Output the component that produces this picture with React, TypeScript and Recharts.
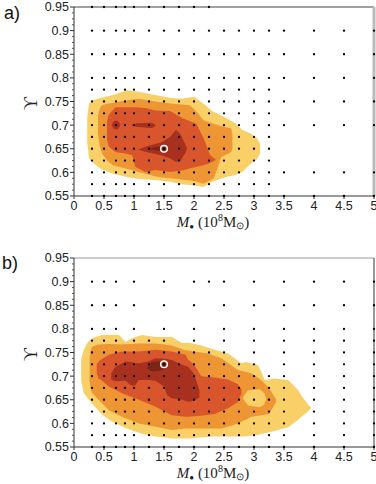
import { ComposedChart, Area, Scatter, XAxis, YAxis, ReferenceLine } from "recharts";

// axis ticks
const xTicks = [0, 0.5, 1, 1.5, 2, 2.5, 3, 3.5, 4, 4.5, 5];
const yTicks = [0.55, 0.6, 0.65, 0.7, 0.75, 0.8, 0.85, 0.9, 0.95];
const yAllTicks = [
  0.55, 0.5625, 0.575, 0.5875, 0.6, 0.6125, 0.625, 0.6375, 0.65, 0.6625, 0.675,
  0.6875, 0.7, 0.7125, 0.725, 0.7375, 0.75, 0.7625, 0.775, 0.7875, 0.8, 0.8125,
  0.825, 0.8375, 0.85, 0.8625, 0.875, 0.8875, 0.9, 0.9125, 0.925, 0.9375, 0.95,
];

// grid columns of the sampled models
const fineX = [0.3, 0.5, 0.7, 0.85, 1, 1.25, 1.5, 1.75, 2, 2.25, 2.5, 2.75, 3, 3.25];
const farX = [3.5, 4, 4.5, 5];

// panel a: grid rows
const rowsA = [
  { y: 0.95, xs: [0.3, 0.5, 0.7, 0.85, 1, 1.25, 1.5, 1.75, 2, 2.25] },
  { y: 0.9, xs: [...fineX, ...farX] },
  { y: 0.85, xs: [...fineX, ...farX] },
  { y: 0.8, xs: [...fineX, ...farX] },
  { y: 0.775, xs: fineX },
  { y: 0.75, xs: [...fineX, ...farX] },
  { y: 0.725, xs: fineX },
  { y: 0.7, xs: [...fineX, ...farX] },
  { y: 0.675, xs: fineX },
  { y: 0.65, xs: fineX },
  { y: 0.625, xs: fineX },
  { y: 0.6, xs: [...fineX, ...farX] },
  { y: 0.575, xs: fineX },
  { y: 0.55, xs: [...fineX, ...farX] },
];

// panel a: confidence regions [M, lower, upper]
const aYellow: [number, number, number][] = [
  [0.22, 0.665, 0.715], [0.25, 0.63, 0.745], [0.3, 0.622, 0.752], [0.45, 0.607, 0.758],
  [0.65, 0.597, 0.764], [0.88, 0.59, 0.774], [1.1, 0.586, 0.77], [1.35, 0.584, 0.764],
  [1.6, 0.58, 0.758], [1.8, 0.575, 0.756], [2.0, 0.572, 0.76], [2.16, 0.569, 0.745],
  [2.3, 0.58, 0.73], [2.55, 0.591, 0.714], [2.7, 0.595, 0.703], [2.8, 0.601, 0.69],
  [2.95, 0.619, 0.682], [3.05, 0.628, 0.672], [3.1, 0.64, 0.66],
];
const aOrange: [number, number, number][] = [
  [0.4, 0.68, 0.72], [0.43, 0.655, 0.735], [0.47, 0.64, 0.742], [0.55, 0.625, 0.745],
  [0.65, 0.615, 0.747], [0.86, 0.608, 0.752], [1.08, 0.601, 0.756], [1.4, 0.59, 0.749],
  [1.65, 0.587, 0.745], [1.93, 0.583, 0.742], [2.05, 0.58, 0.728], [2.16, 0.576, 0.71],
  [2.33, 0.587, 0.703], [2.4, 0.612, 0.7], [2.45, 0.632, 0.698], [2.62, 0.643, 0.693],
  [2.64, 0.65, 0.68],
];
const aRed: [number, number, number][] = [
  [0.55, 0.67, 0.71], [0.58, 0.655, 0.722], [0.69, 0.643, 0.738], [0.86, 0.64, 0.738],
  [0.97, 0.636, 0.738], [1.02, 0.612, 0.738], [1.19, 0.601, 0.736], [1.36, 0.605, 0.731],
  [1.6, 0.601, 0.73], [1.8, 0.604, 0.715], [2.04, 0.612, 0.703], [2.16, 0.615, 0.672],
  [2.27, 0.62, 0.636], [2.36, 0.626, 0.628],
];
const aDark1: [number, number, number][] = [
  [0.63, 0.7, 0.701], [0.66, 0.693, 0.708], [0.72, 0.69, 0.71], [0.77, 0.698, 0.703],
];
const aDark2: [number, number, number][] = [
  [0.97, 0.699, 0.701], [1.05, 0.696, 0.704], [1.3, 0.694, 0.705], [1.36, 0.698, 0.701],
];
const aDark3: [number, number, number][] = [
  [1.08, 0.648, 0.649], [1.2, 0.643, 0.655], [1.45, 0.636, 0.663], [1.6, 0.63, 0.675],
  [1.7, 0.622, 0.69], [1.78, 0.625, 0.68], [1.85, 0.64, 0.66], [1.88, 0.649, 0.652],
];
const aDarkest: [number, number, number][] = [
  [1.25, 0.649, 0.651], [1.4, 0.646, 0.654], [1.5, 0.646, 0.654], [1.56, 0.649, 0.651],
];
const bestA = { x: 1.5, y: 0.65 };

// panel b: grid rows
const rowsB = [
  { y: 0.9, xs: [0.3, 0.5, 0.7, 1, 1.5, 2, 2.25, 2.5, 3, 3.5, 4, 4.5, 5] },
  { y: 0.85, xs: [0.3, 0.5, 0.7, 1, 1.5, 2, 2.5, 3, 3.5, 4, 4.5, 5] },
  { y: 0.8, xs: [0.3, 0.5, 0.7, 1, 1.5, 2, 2.5, 3, 3.5, 4, 4.5, 5] },
  { y: 0.775, xs: [0.3, 0.5, 0.7, 1, 1.25, 1.5, 2, 2.5, 3, 3.5, 4, 4.5, 5] },
  { y: 0.75, xs: [0.3, 0.5, 0.7, 0.85, 1, 1.25, 1.5, 1.75, 2, 2.25, 2.5, 3, 3.5, 4, 4.5, 5] },
  { y: 0.725, xs: [0.3, 0.5, 0.7, 0.85, 1, 1.25, 1.5, 1.75, 2, 2.25, 2.5, 2.75, 3, 3.5, 4, 4.5, 5] },
  { y: 0.7, xs: [...fineX, ...farX] },
  { y: 0.675, xs: [...fineX, ...farX] },
  { y: 0.65, xs: [...fineX, ...farX] },
  { y: 0.625, xs: [...fineX, ...farX] },
  { y: 0.6, xs: [...fineX, ...farX] },
  { y: 0.575, xs: [...fineX, ...farX] },
  { y: 0.55, xs: [...fineX, ...farX] },
];

// panel b: confidence regions
const bYellow: [number, number, number][] = [
  [0.12, 0.69, 0.735], [0.16, 0.665, 0.755], [0.22, 0.655, 0.77], [0.3, 0.642, 0.78],
  [0.47, 0.618, 0.787], [0.63, 0.604, 0.787], [0.75, 0.597, 0.787], [0.86, 0.59, 0.772],
  [0.97, 0.585, 0.78], [1.13, 0.578, 0.787], [1.36, 0.572, 0.783], [1.63, 0.568, 0.783],
  [1.8, 0.568, 0.77], [1.93, 0.568, 0.77], [2.1, 0.57, 0.766], [2.32, 0.572, 0.757],
  [2.57, 0.572, 0.748], [2.79, 0.572, 0.727], [2.87, 0.573, 0.73], [3.07, 0.576, 0.723],
  [3.18, 0.579, 0.692], [3.34, 0.584, 0.695], [3.57, 0.592, 0.692], [3.73, 0.607, 0.671],
  [3.8, 0.615, 0.657], [3.9, 0.625, 0.64], [3.95, 0.632, 0.634],
];
const bOrange: [number, number, number][] = [
  [0.26, 0.69, 0.74], [0.28, 0.672, 0.755], [0.3, 0.665, 0.762], [0.41, 0.65, 0.767],
  [0.58, 0.628, 0.768], [0.8, 0.614, 0.767], [1.08, 0.6, 0.769], [1.36, 0.593, 0.769],
  [1.63, 0.586, 0.765], [1.86, 0.589, 0.755], [2.23, 0.589, 0.748], [2.46, 0.589, 0.738],
  [2.62, 0.595, 0.723], [2.73, 0.6, 0.713], [2.96, 0.614, 0.706], [3.12, 0.617, 0.692],
  [3.25, 0.62, 0.675], [3.37, 0.645, 0.65],
];
const bPocket: [number, number, number][] = [
  [2.82, 0.652, 0.656], [2.9, 0.638, 0.67], [3.1, 0.634, 0.672], [3.17, 0.64, 0.664],
  [3.2, 0.65, 0.655],
];
const bRed: [number, number, number][] = [
  [0.38, 0.705, 0.725], [0.41, 0.695, 0.731], [0.47, 0.69, 0.737], [0.58, 0.678, 0.745],
  [0.8, 0.664, 0.752], [1.08, 0.65, 0.752], [1.36, 0.635, 0.756], [1.63, 0.617, 0.752],
  [1.86, 0.614, 0.745], [1.9, 0.614, 0.735], [2.0, 0.615, 0.725], [2.12, 0.616, 0.7],
  [2.34, 0.62, 0.697], [2.57, 0.632, 0.693], [2.73, 0.645, 0.683], [2.79, 0.662, 0.672],
];
const bDark: [number, number, number][] = [
  [0.62, 0.693, 0.706], [0.69, 0.689, 0.72], [0.86, 0.69, 0.731], [0.95, 0.68, 0.73],
  [1.02, 0.68, 0.728], [1.08, 0.692, 0.727], [1.24, 0.692, 0.731], [1.36, 0.69, 0.738],
  [1.5, 0.678, 0.737], [1.55, 0.66, 0.736], [1.63, 0.653, 0.734], [1.8, 0.65, 0.724],
  [1.9, 0.646, 0.72], [2.0, 0.648, 0.705], [2.09, 0.655, 0.67],
];
const bDarkest: [number, number, number][] = [
  [1.22, 0.716, 0.72], [1.3, 0.71, 0.73], [1.45, 0.712, 0.732], [1.55, 0.718, 0.728],
];
const bestB = { x: 1.5, y: 0.725 };

const C1 = "#f9cf68";
const C2 = "#ee9534";
const C3 = "#d9552b";
const C4 = "#a8301f";
const C5 = "#7b2417";

const SANS = '"Liberation Sans", Arial, sans-serif';
const SERIF = '"Liberation Serif", "Times New Roman", serif';

interface Layer {
  color: string;
  band: [number, number, number][];
}

const YTick = (props: any) => {
  const { x, y, payload } = props;
  const v = payload.value;
  const major = yTicks.includes(v);
  return (
    <g>
      {major ? (
        <>
          <line x1={x} x2={x + 4} y1={y} y2={y} stroke="#333" />
          <text x={x - 1} y={y} dy="0.355em" textAnchor="end" fontSize={12.5} fontFamily={SANS} fill="#222">
            {v}
          </text>
        </>
      ) : (
        <line x1={x + 2} x2={x + 4} y1={y} y2={y} stroke="#555" />
      )}
    </g>
  );
};

function Panel({
  layers,
  rows,
  best,
  topStroke,
  rightStroke,
  rightWidth,
}: {
  layers: Layer[];
  rows: { y: number; xs: number[] }[];
  best: { x: number; y: number };
  topStroke: string;
  rightStroke: string;
  rightWidth: number;
}) {
  const dots = rows.flatMap((r) => r.xs.map((x) => ({ x, y: r.y })));
  return (
    <ComposedChart width={376} height={233} margin={{ top: 7, right: 2, bottom: 0, left: 0 }}>
      <XAxis
        type="number"
        dataKey="x"
        domain={[0, 5]}
        ticks={xTicks}
        interval={0}
        height={37}
        tickSize={3}
        tickMargin={2}
        stroke="#333"
        tick={{ fontSize: 12.5, fill: "#222", fontFamily: SANS }}
        label={{
          content: ({ viewBox }: any) => (
            <text
              x={viewBox.x + viewBox.width / 2 - 11}
              y={viewBox.y + 31}
              textAnchor="middle"
              fontFamily={SERIF}
              fontSize={15}
              fill="#222"
            >
              <tspan fontStyle="italic">M</tspan>
              <tspan fontSize={8} dy={2}>●</tspan>
              <tspan dy={-2}> (10</tspan>
              <tspan fontSize={10} dy={-6}>8</tspan>
              <tspan dy={6}>M</tspan>
              <tspan fontSize={10} dy={2}>⊙</tspan>
              <tspan dy={-2}>)</tspan>
            </text>
          ),
        }}
      />
      <YAxis
        type="number"
        dataKey="y"
        domain={[0.55, 0.95]}
        ticks={yAllTicks}
        interval={0}
        width={74}
        tickSize={4}
        tickMargin={0}
        tickLine={false}
        stroke="#333"
        tick={<YTick />}
        label={{
          content: ({ viewBox }: any) => (
            <text
              transform={`translate(${viewBox.x + 37}, ${viewBox.y + viewBox.height / 2 + 2}) rotate(-90)`}
              textAnchor="middle"
              fontFamily={SERIF}
              fontSize={18}
              fill="#222"
            >
              ϒ
            </text>
          ),
        }}
      />
      {layers.map((l, i) => (
        <Area
          key={i}
          data={l.band.map(([x, lo, hi]) => ({ x, v: [lo, hi] }))}
          dataKey="v"
          type="linear"
          fill={l.color}
          fillOpacity={1}
          stroke="none"
          dot={false}
          activeDot={false}
          isAnimationActive={false}
        />
      ))}
      <ReferenceLine y={0.95} stroke={topStroke} strokeWidth={1.2} />
      <ReferenceLine x={5} stroke={rightStroke} strokeWidth={rightWidth} />
      <Scatter
        data={dots}
        isAnimationActive={false}
        shape={(p: any) => <circle cx={p.cx} cy={p.cy} r={1.15} fill="#000" />}
      />
      <Scatter
        data={[best]}
        isAnimationActive={false}
        shape={(p: any) => <circle cx={p.cx} cy={p.cy} r={3.3} fill="none" stroke="#fff" strokeWidth={1.5} />}
      />
    </ComposedChart>
  );
}

export default function App() {
  const layersA: Layer[] = [
    { color: C1, band: aYellow },
    { color: C2, band: aOrange },
    { color: C3, band: aRed },
    { color: C4, band: aDark1 },
    { color: C4, band: aDark2 },
    { color: C4, band: aDark3 },
    { color: C5, band: aDarkest },
  ];
  const layersB: Layer[] = [
    { color: C1, band: bYellow },
    { color: C2, band: bOrange },
    { color: C1, band: bPocket },
    { color: C3, band: bRed },
    { color: C4, band: bDark },
    { color: C5, band: bDarkest },
  ];
  return (
    <div style={{ position: "absolute", left: 0, top: 0, width: 376, height: 484, overflow: "hidden", background: "#fff" }}>
      <div style={{ position: "absolute", left: 0, top: 0 }}>
        <Panel layers={layersA} rows={rowsA} best={bestA} topStroke="#444" rightStroke="#bbb" rightWidth={3} />
      </div>
      <div style={{ position: "absolute", left: 0, top: 251 }}>
        <Panel layers={layersB} rows={rowsB} best={bestB} topStroke="#999" rightStroke="#777" rightWidth={1.5} />
      </div>
      <svg width={376} height={484} style={{ position: "absolute", left: 0, top: 0, pointerEvents: "none" }}>
        <text x={4} y={19} fontFamily={SANS} fontSize={18} fill="#111">a)</text>
        <text x={2} y={269} fontFamily={SANS} fontSize={18} fill="#111">b)</text>
      </svg>
    </div>
  );
}
